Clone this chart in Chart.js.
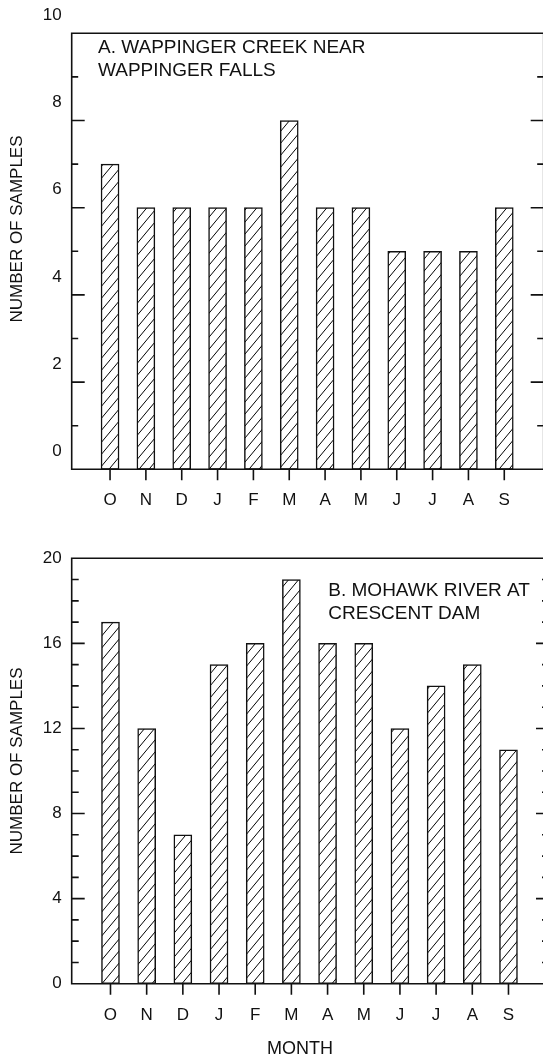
<!DOCTYPE html>
<html>
<head>
<meta charset="utf-8">
<script src="https://cdn.jsdelivr.net/npm/chart.js@4.4.0/dist/chart.umd.min.js"></script>
<style>
  html, body { margin: 0; padding: 0; background: #fff; overflow: hidden; }
  #wrapA { position: absolute; left: 0; top: 0; width: 543px; height: 530px; overflow: hidden; }
  #wrapB { position: absolute; left: 0; top: 530px; width: 543px; height: 529px; overflow: hidden; }
</style>
</head>
<body>
<div id="wrapA"><canvas id="chartA" width="570" height="530"></canvas></div>
<div id="wrapB"><canvas id="chartB" width="570" height="529"></canvas></div>
<script>
// Datos
const months = ['O', 'N', 'D', 'J', 'F', 'M', 'A', 'M', 'J', 'J', 'A', 'S'];
const samplesA = [7, 6, 6, 6, 6, 8, 6, 6, 5, 5, 5, 6];
const samplesB = [17, 12, 7, 15, 16, 19, 16, 16, 12, 14, 15, 11];
const yTicksA = [0, 2, 4, 6, 8, 10];
const yTicksB = [0, 4, 8, 12, 16, 20];
const titleA = ['A. WAPPINGER CREEK NEAR', 'WAPPINGER FALLS'];
const titleB = ['B. MOHAWK RIVER AT', 'CRESCENT DAM'];
const yTitle = 'NUMBER OF SAMPLES';
const xTitle = 'MONTH';

const FONT = '"Liberation Sans", Arial, sans-serif';

// Trama diagonal de las barras
function makeHatch() {
    const c = document.createElement('canvas');
    c.width = 10;
    c.height = 12;
    const g = c.getContext('2d');
    g.fillStyle = '#fff';
    g.fillRect(0, 0, 10, 12);
    g.strokeStyle = '#000';
    g.lineWidth = 1;
    g.beginPath();
    for (const k of [-1, 0, 1]) {
        g.moveTo(-1, 12 + 12 * k + 1.2);
        g.lineTo(11, 12 + 12 * k - 13.2);
    }
    g.stroke();
    return c;
}

// Marco, marcas y textos
const framePlugin = {
    id: 'frame',
    afterDraw(chart, args, o) {
        const { ctx, chartArea: a, scales: { x, y } } = chart;
        ctx.save();
        ctx.strokeStyle = '#111';
        ctx.lineWidth = 1.6;
        ctx.beginPath();
        ctx.moveTo(a.left, a.top); ctx.lineTo(a.right, a.top);
        ctx.moveTo(a.left, a.top - 0.8); ctx.lineTo(a.left, a.bottom + 0.8);
        ctx.moveTo(a.left, a.bottom); ctx.lineTo(a.right, a.bottom);
        ctx.moveTo(a.right, a.top); ctx.lineTo(a.right, a.bottom);
        for (let v = y.min; v <= y.max; v += o.minor) {
            const py = y.getPixelForValue(v);
            const len = v % o.major === 0 ? 13 : o.minorLen;
            ctx.moveTo(a.left, py); ctx.lineTo(a.left + len, py);
            ctx.moveTo(a.right, py); ctx.lineTo(a.right - len, py);
        }
        x.ticks.forEach(t => {
            const px = x.getPixelForValue(t.value);
            ctx.moveTo(px, a.bottom); ctx.lineTo(px, a.bottom + 11);
        });
        ctx.stroke();

        ctx.fillStyle = '#111';
        ctx.textAlign = 'left';
        ctx.textBaseline = 'alphabetic';
        ctx.font = '19px ' + FONT;
        o.title.forEach((line, i) => ctx.fillText(line, o.titleX, o.titleY + i * 23));

        ctx.save();
        ctx.translate(o.yTitleX, o.yTitleY);
        ctx.rotate(-Math.PI / 2);
        ctx.textAlign = 'center';
        ctx.textBaseline = 'middle';
        ctx.font = '17px ' + FONT;
        ctx.fillText(yTitle, 0, 0);
        ctx.restore();

        if (o.xTitle) {
            ctx.textAlign = 'center';
            ctx.font = '18px ' + FONT;
            ctx.fillText(o.xTitle, o.xTitleX, o.xTitleY);
        }
        ctx.restore();
    }
};

function makeChart(id, values, yTicks, yMax, xMin, xMax, area, frameOpts, labelOffset) {
    const canvas = document.getElementById(id);
    const W = canvas.width, H = canvas.height;
    const hatch = canvas.getContext('2d').createPattern(makeHatch(), 'repeat');
    return new Chart(canvas, {
        type: 'bar',
        data: {
            datasets: [{
                data: values.map((v, i) => ({ x: i, y: v })),
                backgroundColor: hatch,
                borderColor: '#111',
                borderWidth: 1.5,
                borderSkipped: false,
                barThickness: 18
            }]
        },
        options: {
            responsive: false,
            animation: false,
            layout: { padding: { left: 0, top: area.top, right: W - area.right, bottom: 0 } },
            plugins: {
                legend: { display: false },
                tooltip: { enabled: false },
                frame: frameOpts
            },
            scales: {
                x: {
                    type: 'linear',
                    offset: false,
                    min: xMin,
                    max: xMax,
                    grid: { display: false, drawTicks: false, offset: false },
                    border: { display: false },
                    afterBuildTicks: s => { s.ticks = months.map((m, i) => ({ value: i })); },
                    afterFit: s => { s.height = H - area.bottom; },
                    ticks: {
                        autoSkip: false,
                        maxRotation: 0,
                        padding: 21,
                        color: '#111',
                        font: { family: FONT, size: 17 },
                        callback: v => months[v]
                    }
                },
                y: {
                    min: 0,
                    max: yMax,
                    grid: { display: false, drawTicks: false },
                    border: { display: false },
                    afterBuildTicks: s => { s.ticks = yTicks.map(v => ({ value: v })); },
                    afterFit: s => { s.width = area.left; },
                    ticks: {
                        padding: 10,
                        labelOffset: labelOffset,
                        color: '#111',
                        font: { family: FONT, size: 17 }
                    }
                }
            }
        },
        plugins: [framePlugin]
    });
}

makeChart('chartA', samplesA, yTicksA, 10, -1.07, 12.1,
    { left: 71.7, top: 33.3, right: 543.7, bottom: 469.3 },
    { major: 2, minor: 1, minorLen: 6.5, title: titleA, titleX: 98, titleY: 53,
      yTitleX: 17, yTitleY: 229, xTitle: null },
    -18);

makeChart('chartB', samplesB, yTicksB, 20, -1.072, 12.12,
    { left: 71.7, top: 28.3, right: 549, bottom: 453.7 },
    { major: 4, minor: 1, minorLen: 7, title: titleB, titleX: 328.3, titleY: 66,
      yTitleX: 17, yTitleY: 231, xTitle: xTitle, xTitleX: 300, xTitleY: 524 },
    0);
</script>
</body>
</html>
